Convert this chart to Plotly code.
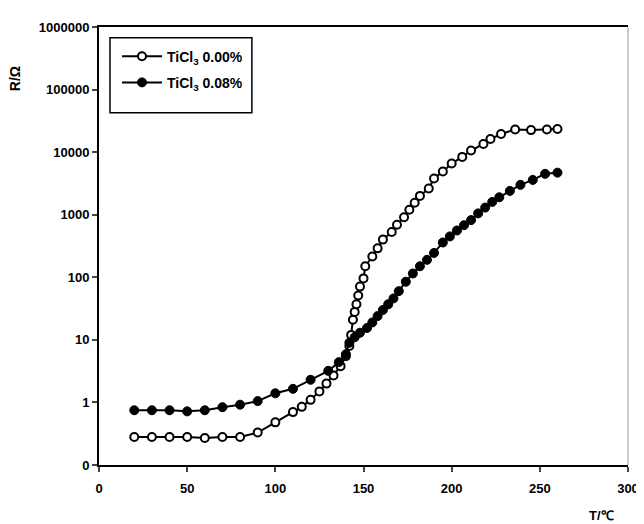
import plotly.graph_objects as go

# Temperature (°C) and resistance (Ω)
t_000 = [20, 30, 40, 50, 60, 70, 80, 90, 100, 110, 115, 120, 125, 129, 133, 137, 140, 142,
         143, 144, 145, 146, 147, 148, 150, 151, 155, 158, 161, 166, 169, 173, 176, 179,
         182, 187, 190, 195, 200, 206, 211, 218, 222, 228, 236, 245, 254, 260]
r_000 = [0.28, 0.28, 0.28, 0.28, 0.27, 0.28, 0.28, 0.33, 0.48, 0.7, 0.85, 1.1, 1.5, 2.0, 2.7, 3.8, 5.5, 8,
         12, 21, 28, 37, 51, 71, 96, 150, 215, 290, 400, 530, 690, 910, 1200, 1550,
         2000, 2630, 3800, 4900, 6600, 8400, 10600, 13500, 16200, 19500, 23000, 22500, 23000, 23500]

t_008 = [20, 30, 40, 50, 60, 70, 80, 90, 100, 110, 120, 130, 136, 140, 142, 145, 148, 152,
         155, 158, 161, 164, 167, 170, 174, 178, 182, 186, 190, 195, 199, 203, 207, 211,
         215, 219, 223, 227, 233, 239, 246, 253, 260]
r_008 = [0.75, 0.75, 0.75, 0.72, 0.75, 0.84, 0.92, 1.05, 1.4, 1.65, 2.3, 3.2, 4.4, 5.9, 9, 11, 13, 15.5,
         19, 24, 30, 37, 46, 60, 85, 115, 150, 190, 245, 360, 450, 560, 680, 820,
         1050, 1300, 1600, 1900, 2400, 3000, 3600, 4500, 4700]

x_ticks = [0, 50, 100, 150, 200, 250, 300]
y_tickvals = [0.1, 1, 10, 100, 1000, 10000, 100000, 1000000]
y_ticktext = ["0", "1", "10", "100", "1000", "10000", "100000", "1000000"]

series_names = ["TiCl<sub>3</sub> 0.00%", "TiCl<sub>3</sub> 0.08%"]

FONT = "Liberation Sans, Arial, sans-serif"

fig = go.Figure()
fig.add_trace(go.Scatter(
    x=t_000, y=r_000, mode="lines+markers", name=series_names[0], legendgroup="a",
    line=dict(color="black", width=2),
    marker=dict(symbol="circle", size=8, color="white", line=dict(color="black", width=2)),
))
fig.add_trace(go.Scatter(
    x=t_008, y=r_008, mode="lines+markers", name=series_names[1], legendgroup="b",
    line=dict(color="black", width=2),
    marker=dict(symbol="circle", size=9, color="black", line=dict(color="black", width=1)),
))

fig.update_layout(
    width=644, height=524,
    margin=dict(l=91, r=24, t=12, b=67),
    paper_bgcolor="white", plot_bgcolor="white",
    font=dict(family=FONT, color="black"),
    showlegend=True,
    legend=dict(
        x=0.034, y=0.969, xanchor="left", yanchor="top",
        borderwidth=0, bgcolor="rgba(0,0,0,0)",
        font=dict(size=14, family=FONT, weight="bold"),
        tracegroupgap=5, itemwidth=40,
    ),
    xaxis=dict(
        range=[0, 300], tickvals=x_ticks, ticks="outside", ticklen=5, tickwidth=2,
        showline=True, linecolor="black", linewidth=2, mirror=True,
        showgrid=False, zeroline=False, ticklabelstandoff=5,
        tickfont=dict(size=13, family=FONT, weight="bold"),
    ),
    yaxis=dict(
        type="log", range=[-1, 6], tickvals=y_tickvals, ticktext=y_ticktext,
        ticks="outside", ticklen=5, tickwidth=2,
        showline=True, linecolor="black", linewidth=2,
        showgrid=False, zeroline=False,
        tickfont=dict(size=13, family=FONT, weight="bold"),
    ),
    shapes=[
        dict(type="line", xref="paper", yref="paper", x0=1, x1=1, y0=0, y1=1,
             line=dict(color="#999999", width=1)),
        dict(type="rect", xref="paper", yref="paper", x0=0.0208, x1=0.289, y0=0.8045, y1=0.9753,
             line=dict(color="black", width=1.5), fillcolor="rgba(0,0,0,0)", layer="above"),
    ],
    annotations=[
        dict(text="R/Ω", xref="paper", yref="paper", x=-0.159, y=0.883,
             xanchor="center", yanchor="middle",
             showarrow=False, textangle=-90, font=dict(size=14, family=FONT, weight="bold")),
        dict(text="T/℃", xref="paper", yref="paper", x=0.949, y=-0.1146,
             xanchor="center", yanchor="middle",
             showarrow=False, font=dict(size=13, family=FONT, weight="bold")),
    ],
)

fig.write_html("out.html")
